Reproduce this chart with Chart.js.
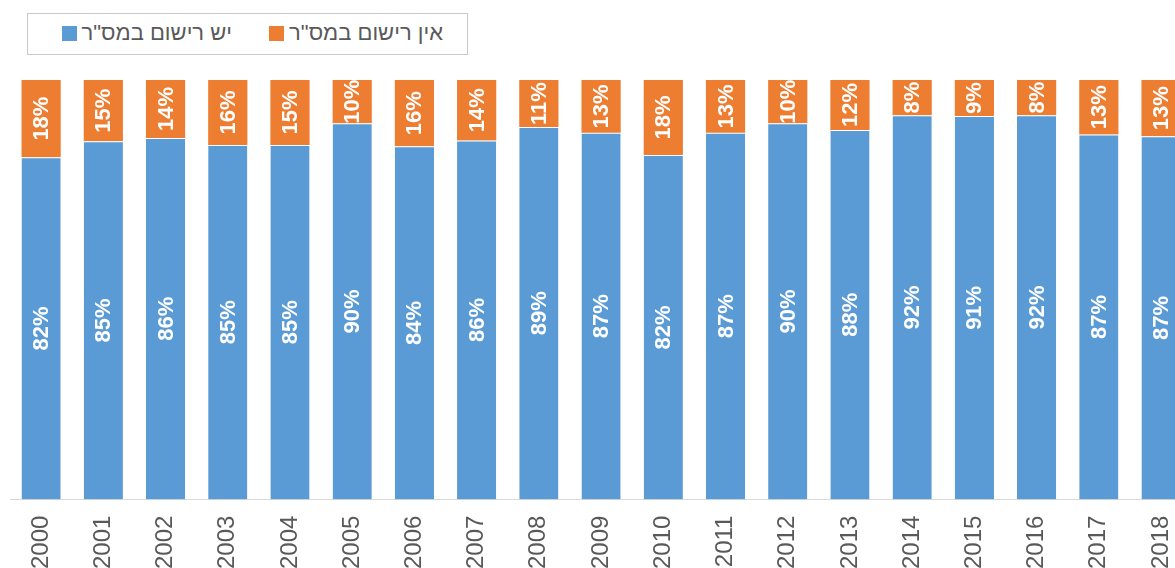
<!DOCTYPE html>
<html><head><meta charset="utf-8">
<script src="https://cdn.jsdelivr.net/npm/chart.js@4/dist/chart.umd.min.js"></script>
<style>
html,body{margin:0;padding:0;width:1175px;height:568px;overflow:hidden;background:#fff;}
#wrap{position:absolute;left:0;top:0;width:1206px;height:585px;}
#legend{position:absolute;left:27px;top:13px;width:439px;height:40px;border:1px solid #c8c8c8;background:#fff;font-family:"Liberation Sans",Arial,sans-serif;font-size:22px;color:#595959;direction:rtl;z-index:2;}
#legend .item{position:absolute;top:6px;white-space:nowrap;line-height:26px;}
#legend .sw{display:inline-block;width:15px;height:15px;vertical-align:-1px;margin-right:5px;}
</style></head>
<body>
<div id="wrap"><canvas id="c" width="1206" height="585"></canvas></div>
<div id="legend"></div>
<script>
const years = ["2000","2001","2002","2003","2004","2005","2006","2007","2008","2009","2010","2011","2012","2013","2014","2015","2016","2017","2018"];
const seriesNames = ['יש רישום במס"ר','אין רישום במס"ר'];
const registered   = [81.6,85.4,86.2,84.5,84.5,89.7,84.2,85.6,88.8,87.4,82.1,87.4,89.7,88.1,91.6,91.4,91.6,87.0,86.6];
const unregistered = [18.4,14.6,13.8,15.5,15.5,10.3,15.8,14.4,11.2,12.6,17.9,12.6,10.3,11.9,8.4,8.6,8.4,13.0,13.4];
const registeredLabels   = ["82%","85%","86%","85%","85%","90%","84%","86%","89%","87%","82%","87%","90%","88%","92%","91%","92%","87%","87%"];
const unregisteredLabels = ["18%","15%","14%","16%","15%","10%","16%","14%","11%","13%","18%","13%","10%","12%","8%","9%","8%","13%","13%"];
const colors = ["#5B9BD5","#ED7D31"];

// HTML legend
const lg = document.getElementById('legend');
const pos = [{right:24, i:1},{right:235, i:0}];
pos.forEach(p=>{
  const d=document.createElement('div');d.className='item';d.style.right=p.right+'px';
  d.innerHTML = '<span>'+seriesNames[p.i]+'</span><span class="sw" style="background:'+colors[p.i]+'"></span>';
  lg.appendChild(d);
});

const labelPlugin = {
  id:'barLabels',
  afterDatasetsDraw(chart){
    const ctx = chart.ctx;
    const labelSets = [registeredLabels, unregisteredLabels];
    chart.data.datasets.forEach((ds,di)=>{
      const meta = chart.getDatasetMeta(di);
      meta.data.forEach((el,i)=>{
        const cy = (el.y + el.base)/2;
        ctx.save();
        ctx.translate(el.x, cy);
        ctx.rotate(-Math.PI/2);
        ctx.fillStyle = '#fff';
        ctx.font = 'bold 22px "Liberation Sans", Arial, sans-serif';
        ctx.textAlign='center'; ctx.textBaseline='middle';
        ctx.fillText(labelSets[di][i], 0, 1);
        ctx.restore();
      });
    });
  }
};

new Chart(document.getElementById('c'), {
  type:'bar',
  data:{
    labels: years,
    datasets:[
      {label:seriesNames[0], data:registered, backgroundColor:colors[0], borderColor:'#ffffff', borderWidth:{top:1,left:0,right:0,bottom:0}, borderSkipped:false, barPercentage:0.63, categoryPercentage:1},
      {label:seriesNames[1], data:unregistered, backgroundColor:colors[1], borderWidth:0, barPercentage:0.63, categoryPercentage:1}
    ]
  },
  options:{
    responsive:false, animation:false,
    layout:{padding:{left:10,right:6,top:80,bottom:0}},
    plugins:{legend:{display:false}, tooltip:{enabled:false}},
    scales:{
      x:{stacked:true, grid:{display:false, drawTicks:false}, border:{display:true,color:'#d9d9d9',width:1},
         ticks:{maxRotation:90,minRotation:90,padding:16,color:'#595959',font:{family:'"Liberation Sans", Arial, sans-serif',size:24}}},
      y:{stacked:true, display:false, min:0, max:100}
    }
  },
  plugins:[labelPlugin]
});
</script>
</body></html>
